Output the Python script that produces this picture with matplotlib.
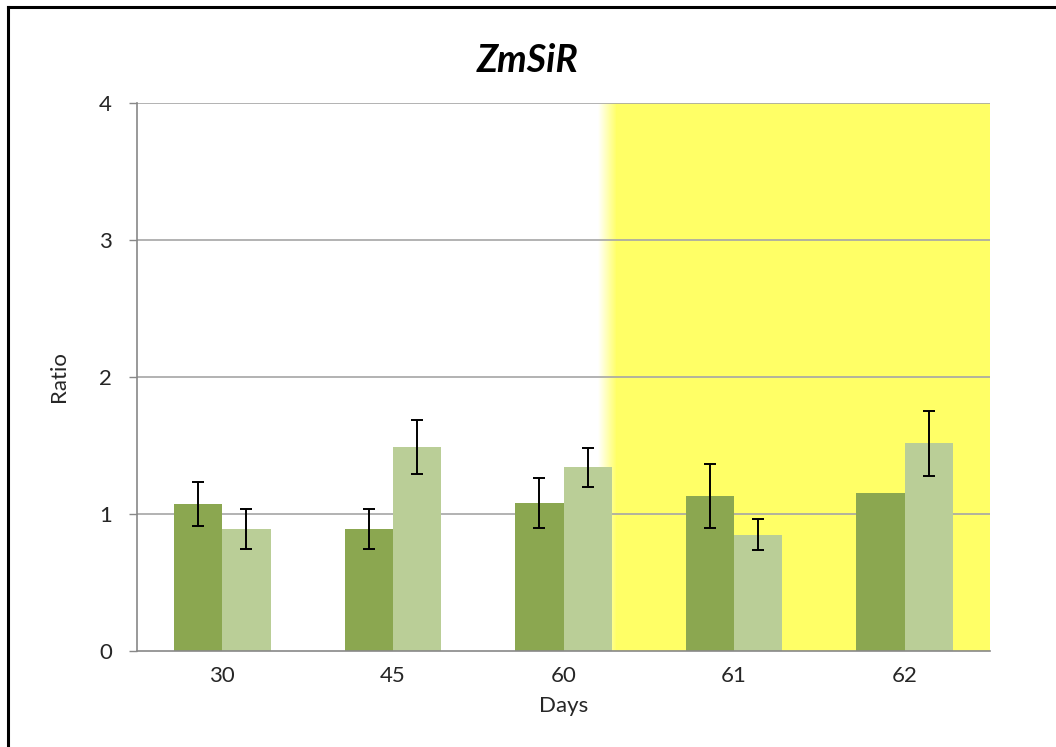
import numpy as np
import matplotlib as mplt
import matplotlib.pyplot as plt
from matplotlib.colors import LinearSegmentedColormap
from matplotlib.patches import Rectangle

mplt.rcParams['font.family'] = ['Lato', 'DejaVu Sans']

days = ["30", "45", "60", "61", "62"]
ratio_a = [1.07, 0.89, 1.08, 1.13, 1.15]
err_a = [0.16, 0.145, 0.18, 0.235, np.nan]
ratio_b = [0.89, 1.49, 1.34, 0.85, 1.515]
err_b = [0.145, 0.195, 0.14, 0.11, 0.235]

c_dark = "#8BA750"
c_light = "#BACE97"
c_yellow = "#FFFF66"
c_grid = "#A6A6A6"

fig = plt.figure(figsize=(10.56, 7.47), dpi=100)
ax = fig.add_axes([137/1056, 1 - 651/747, (990 - 137)/1056, (651 - 103)/747])

x = np.arange(len(days))
w = 0.283

# shaded period, white -> yellow fade then solid
x0, x1 = 2.20, 2.31
cmap = LinearSegmentedColormap.from_list("fade", ["#FFFFFF", c_yellow])
grad = np.linspace(0, 1, 64).reshape(1, -1)
ax.imshow(grad, cmap=cmap, extent=[x0, x1, 0, 4], aspect="auto", zorder=0,
          interpolation="bilinear")
ax.add_patch(Rectangle((x1, 0), 4.5 - x1, 4, color=c_yellow, lw=0, zorder=0))

for yv in [1, 2, 3, 4]:
    ax.axhline(yv, color=c_grid, lw=1.2, zorder=1)

ax.bar(x - w/2, ratio_a, w, color=c_dark, zorder=2)
ax.bar(x + w/2, ratio_b, w, color=c_light, zorder=2)
ax.errorbar(x - w/2, ratio_a, yerr=err_a, fmt="none", ecolor="black",
            elinewidth=1.4, capsize=4.3, capthick=1.4, zorder=3)
ax.errorbar(x + w/2, ratio_b, yerr=err_b, fmt="none", ecolor="black",
            elinewidth=1.4, capsize=4.3, capthick=1.4, zorder=3)

ax.set_xlim(-0.5, 4.5)
ax.set_ylim(0, 4)
ax.set_yticks([0, 1, 2, 3, 4])
ax.set_xticks(x)
ax.set_xticklabels(days)
ax.tick_params(axis="x", length=0, labelsize=16, pad=11, colors="#262626")
ax.tick_params(axis="y", length=6, width=1, color="#888888", labelsize=16,
               pad=12, labelcolor="#262626")
for s in ["top", "right"]:
    ax.spines[s].set_visible(False)
for s in ["left", "bottom"]:
    ax.spines[s].set_color("#888888")
    ax.spines[s].set_linewidth(1.2)

ax.set_xlabel("Days", fontsize=16, color="#262626", labelpad=7)
ax.set_ylabel("Ratio", fontsize=16, color="#262626", labelpad=22)
fig.text(0.5, 1 - 60/747, "ZmSiR", ha="center", va="center", fontsize=27,
         fontweight="bold", fontstyle="italic")

# chart frame (left and top edges)
fig.add_artist(plt.Line2D([8/1056, 8/1056], [0, 1 - 7/747], color="black", lw=2.2))
fig.add_artist(plt.Line2D([8/1056, 1], [1 - 7/747, 1 - 7/747], color="black", lw=2.2))

fig.savefig("out.png", dpi=100)
